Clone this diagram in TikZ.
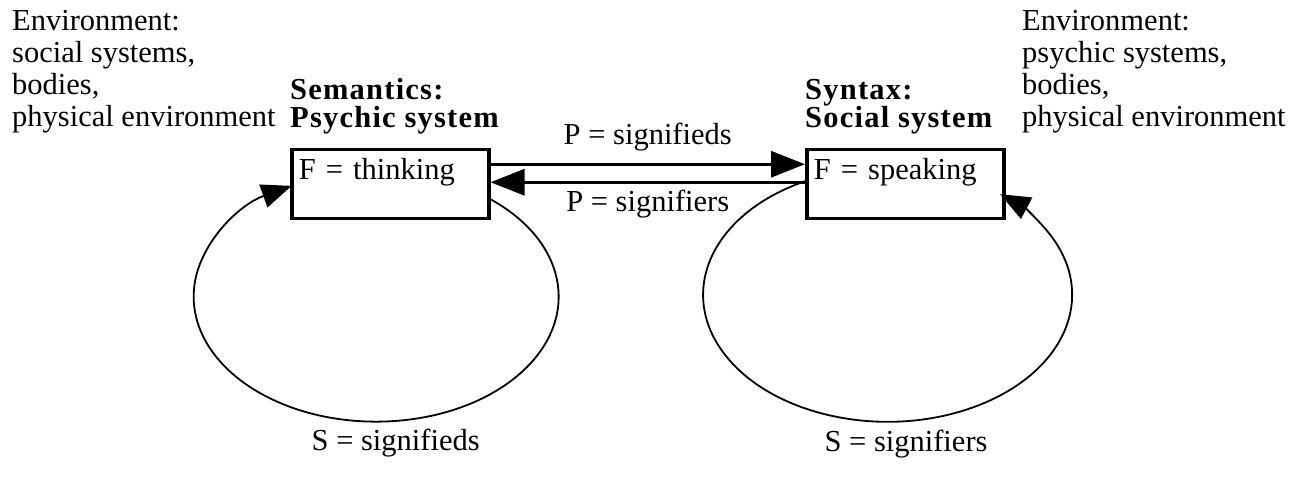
\documentclass[tikz,border=0pt]{standalone}
\usepackage{fontspec}
\setmainfont{Liberation Serif}
\newfontfamily\titlefont[LetterSpace=4]{Liberation Serif}
\usetikzlibrary{arrows.meta,positioning}

\begin{document}
\begin{tikzpicture}[x=1pt, y=1pt, >={Triangle[length=34pt,width=26pt]}, font=\fontsize{30.5pt}{32pt}\selectfont, sysbox/.style={draw, line width=3.5pt, anchor=north west, minimum width=197pt, text width=183pt, align=left, inner xsep=7pt, inner ysep=9pt, text height=21pt, text depth=30pt}, systitle/.style={align=left, inner sep=0pt, font=\titlefont\bfseries\fontsize{30.5pt}{28pt}\selectfont}, envtext/.style={align=left, inner sep=0pt, anchor=north west}, flow/.style={line width=3.2pt, ->}, selfref/.style={line width=1.8pt, -{Triangle[length=30pt,width=24pt]}}, lbl/.style={inner sep=0pt}]
\useasboundingbox (0,0) rectangle (1303,-478);
\node[envtext] (envl) at (12,-10) {Environment:\\social systems,\\bodies,\\physical environment};
\node[envtext] (envr) at (1022,-10) {Environment:\\psychic systems,\\bodies,\\physical environment};
\node[sysbox] (think) at (290,-148) {F = thinking};
\node[sysbox] (speak) at (805,-148) {F = speaking};
\node[systitle, above=14pt of think.north west, anchor=south west] (sem) {Semantics:\\Psychic system};
\node[systitle, above=14pt of speak.north west, anchor=south west] (syn) {Syntax:\\Social system};
\draw[flow] ([yshift=20pt]think.east) -- node[lbl, above=12pt] (pfwd) {P = signifieds} ([yshift=20pt]speak.west);
\draw[flow] ([yshift=2pt]speak.west) -- node[lbl, below=6pt] (pback) {P = signifiers} ([yshift=2pt]think.east);
\draw[selfref] ([yshift=-15pt]think.east) arc[start angle=51.2, end angle=-242.4, x radius=182.5pt, y radius=125pt] node[lbl, pos=0.46, anchor=base, yshift=-30pt] (sleft) {S = signifieds};
\draw[selfref] ([yshift=3pt]speak.west) arc[start angle=116.6, end angle=412.4, x radius=184.5pt, y radius=127pt] node[lbl, pos=0.538, anchor=base, yshift=-30pt] (sright) {S = signifiers};
\end{tikzpicture}
\end{document}
